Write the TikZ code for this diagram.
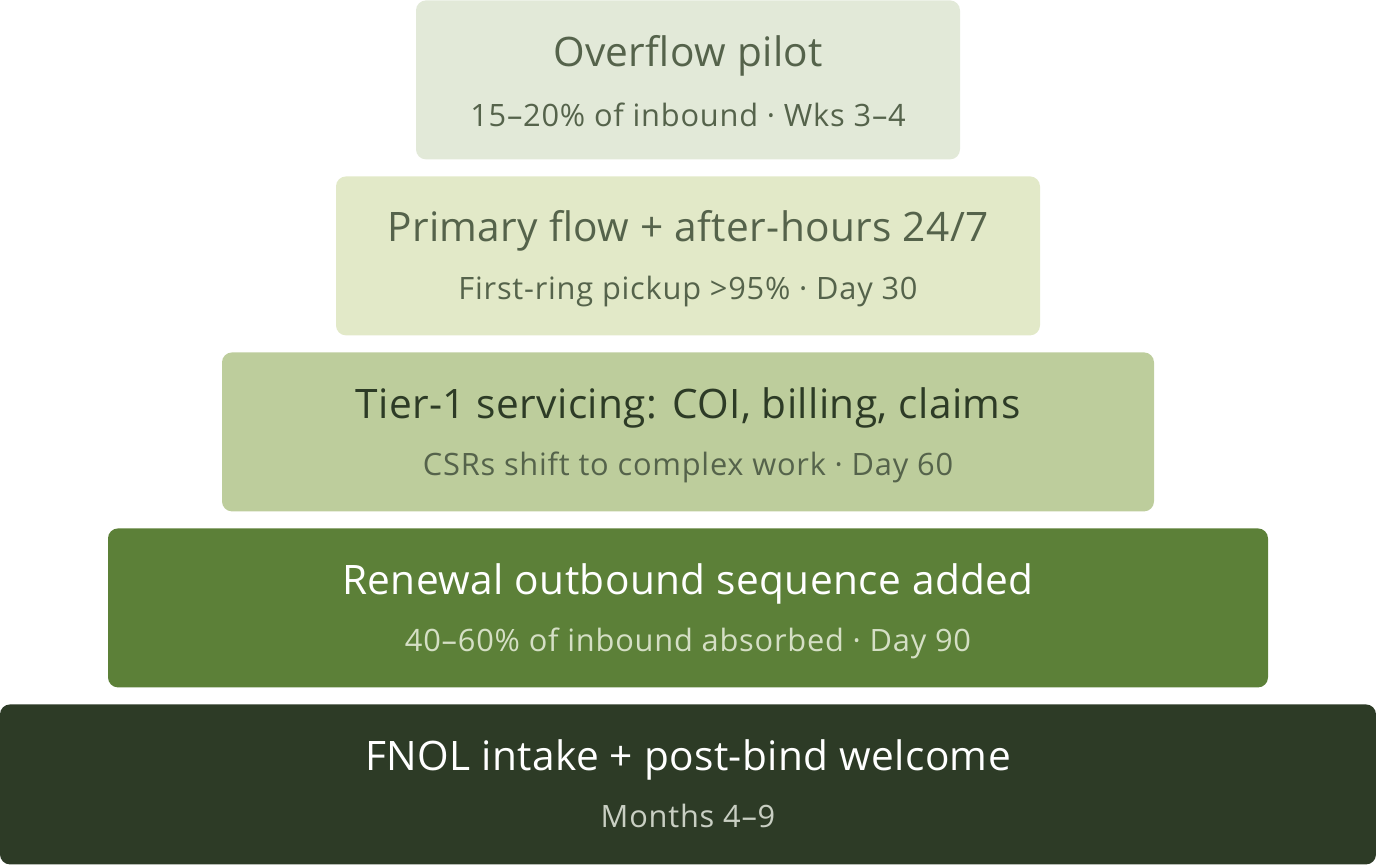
\documentclass[tikz,border=0pt]{standalone}
\usepackage{fontspec}
\setmainfont{Open Sans}
\usetikzlibrary{positioning}
\definecolor{pilotfill}{HTML}{E2E9D8}
\definecolor{primaryfill}{HTML}{E2E9C8}
\definecolor{tierfill}{HTML}{BDCD9C}
\definecolor{renewalfill}{HTML}{5C8038}
\definecolor{fnolfill}{HTML}{2D3B26}
\definecolor{mutedtext}{HTML}{55634B}
\definecolor{darktext}{HTML}{2D3B26}
\definecolor{lighttext}{HTML}{D5DFC5}
\definecolor{greytext}{HTML}{C9CFC3}
\tikzset{
  layer/.style={rounded corners=5pt, minimum height=79.5pt, inner sep=0pt, anchor=north},
  titletext/.style={font=\fontsize{20.3}{23}\selectfont\addfontfeatures{LetterSpace=1}, inner sep=0pt, anchor=base},
  subtext/.style={font=\fontsize{15.4}{18}\selectfont\addfontfeatures{LetterSpace=2.5}, inner sep=0pt, anchor=base}
}

\begin{document}
\begin{tikzpicture}[x=0.5pt,y=0.5pt]
  \useasboundingbox (0,0) rectangle (1376,864);
  % the five layers, top to bottom
  \node [layer, fill=pilotfill, minimum width=272pt] (pilot) at (688,864) {};
  \node [layer, fill=primaryfill, minimum width=352pt] (primary) at (688,688) {};
  \node [layer, fill=tierfill, minimum width=466pt] (tier) at (688,512) {};
  \node [layer, fill=renewalfill, minimum width=580pt] (renewal) at (688,336) {};
  \node [layer, fill=fnolfill, minimum width=688pt, minimum height=80pt] (fnol) at (688,160) {};

  \node [titletext, text=mutedtext] (pilot-t) at ([yshift=-33.5pt]pilot.north) {Overflow pilot};
  \node [subtext, text=mutedtext] (pilot-s) at ([yshift=-63.5pt]pilot.north) {15–20\% of inbound · Wks 3–4};

  \node [titletext, text=mutedtext] (primary-t) at ([yshift=-33pt]primary.north) {Primary flow + after-hours 24/7};
  \node [subtext, text=mutedtext] (primary-s) at ([yshift=-61.5pt]primary.north) {First-ring pickup >95\% · Day 30};

  \node [titletext, text=darktext] (tier-t) at ([yshift=-33pt]tier.north) {Tier-1 servicing: COI, billing, claims};
  \node [subtext, text=mutedtext] (tier-s) at ([yshift=-61.5pt]tier.north) {CSRs shift to complex work · Day 60};

  \node [titletext, text=white] (renewal-t) at ([yshift=-33pt]renewal.north) {Renewal outbound sequence added};
  \node [subtext, text=lighttext] (renewal-s) at ([yshift=-61.5pt]renewal.north) {40–60\% of inbound absorbed · Day 90};

  \node [titletext, text=white] (fnol-t) at ([yshift=-33pt]fnol.north) {FNOL intake + post-bind welcome};
  \node [subtext, text=greytext] (fnol-s) at ([yshift=-61.5pt]fnol.north) {Months 4–9};
\end{tikzpicture}
\end{document}
